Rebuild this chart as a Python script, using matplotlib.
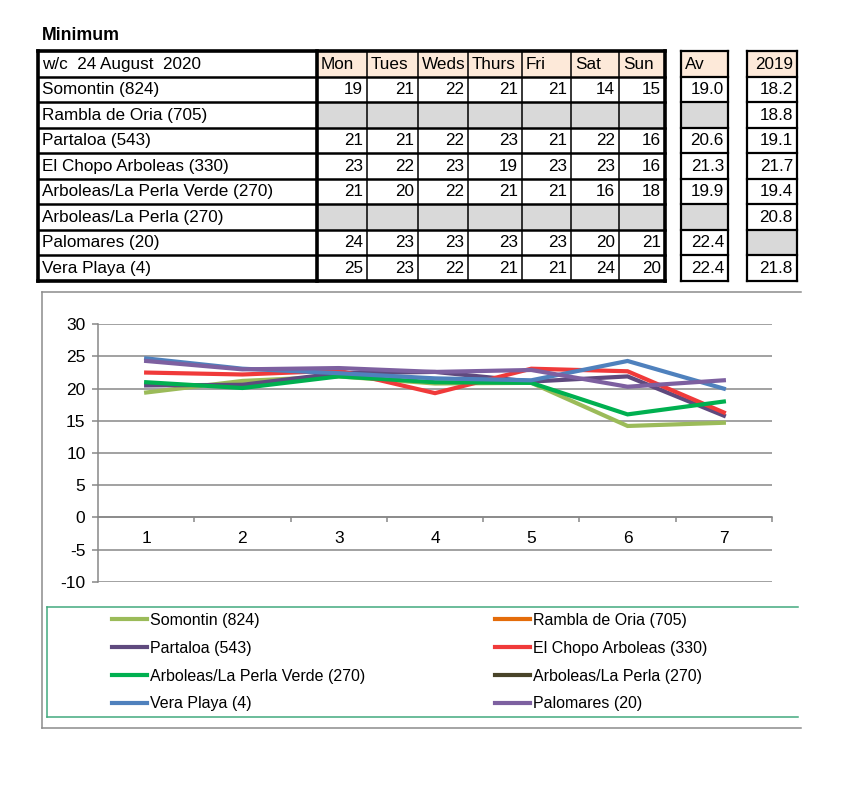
import matplotlib
matplotlib.use("Agg")
import matplotlib.pyplot as plt
from matplotlib.lines import Line2D
from matplotlib.patches import Rectangle
from matplotlib.ticker import MultipleLocator, FixedLocator

plt.rcParams['font.family'] = ['Liberation Sans', 'DejaVu Sans']
plt.rcParams['axes.unicode_minus'] = False

# ---------------- data ----------------
title = "Minimum"
week_label = "w/c  24 August  2020"
days = ["Mon", "Tues", "Weds", "Thurs", "Fri", "Sat", "Sun"]
avg_label = "Av"
prev_label = "2019"

stations = ["Somontin (824)", "Rambla de Oria (705)", "Partaloa (543)",
            "El Chopo Arboleas (330)", "Arboleas/La Perla Verde (270)",
            "Arboleas/La Perla (270)", "Palomares (20)", "Vera Playa (4)"]

# table (daily minimum, whole degrees); None = no data (grey cell)
tbl_somontin = [19, 21, 22, 21, 21, 14, 15]
tbl_rambla = None
tbl_partaloa = [21, 21, 22, 23, 21, 22, 16]
tbl_chopo = [23, 22, 23, 19, 23, 23, 16]
tbl_verde = [21, 20, 22, 21, 21, 16, 18]
tbl_perla = None
tbl_palomares = [24, 23, 23, 23, 23, 20, 21]
tbl_vera = [25, 23, 22, 21, 21, 24, 20]
table_rows = [tbl_somontin, tbl_rambla, tbl_partaloa, tbl_chopo,
              tbl_verde, tbl_perla, tbl_palomares, tbl_vera]

averages = [19.0, None, 20.6, 21.3, 19.9, None, 22.4, 22.4]
prev_year = [18.2, 18.8, 19.1, 21.7, 19.4, 20.8, None, 21.8]

# chart series
x_days = [1, 2, 3, 4, 5, 6, 7]
s_somontin = [19.4, 21.2, 21.9, 20.8, 20.9, 14.2, 14.7]
s_rambla = []
s_partaloa = [20.5, 20.6, 22.4, 22.6, 21.1, 21.9, 15.8]
s_chopo = [22.5, 22.2, 22.8, 19.3, 23.1, 22.7, 16.3]
s_verde = [21.0, 20.1, 21.9, 21.0, 20.9, 16.0, 18.0]
s_perla = []
s_vera = [24.7, 23.1, 22.4, 21.6, 21.3, 24.3, 20.0]
s_palomares = [24.3, 23.0, 23.2, 22.6, 22.9, 20.3, 21.3]

series_names = ["Somontin (824)", "Rambla de Oria (705)", "Partaloa (543)",
                "El Chopo Arboleas (330)", "Arboleas/La Perla Verde (270)",
                "Arboleas/La Perla (270)", "Vera Playa (4)", "Palomares (20)"]
series_vals = [s_somontin, s_rambla, s_partaloa, s_chopo, s_verde,
               s_perla, s_vera, s_palomares]
series_colors = ["#9BBB59", "#E46C0A", "#5F4A7E", "#F03A3A", "#00B050",
                 "#494429", "#4F81BD", "#7D60A0"]

# ---------------- figure ----------------
W, H = 857, 800
fig = plt.figure(figsize=(W / 100, H / 100), dpi=100)
fig.patch.set_facecolor("white")

# overlay axes in pixel coordinates for the table and the frames
ov = fig.add_axes([0, 0, 1, 1])
ov.set_xlim(0, W)
ov.set_ylim(H, 0)
ov.axis("off")

FS = 12.3
ov.text(42, 36, title, fontsize=12.8, fontweight="bold", va="center", ha="left")

row_edges = [51 + 25.5 * i for i in range(10)]
main_cols = [38, 317, 367, 418, 468, 522, 571, 619, 665]
av_cols = [681, 728]
py_cols = [747, 797]
peach = "#FDE9D9"
grey = "#D9D9D9"

def fill(x0, x1, y0, y1, c):
    ov.add_patch(Rectangle((x0, y0), x1 - x0, y1 - y0, facecolor=c,
                           edgecolor="none", zorder=1))

# header fills
for j in range(7):
    fill(main_cols[j + 1], main_cols[j + 2], row_edges[0], row_edges[1], peach)
fill(av_cols[0], av_cols[1], row_edges[0], row_edges[1], peach)
fill(py_cols[0], py_cols[1], row_edges[0], row_edges[1], peach)

# header texts
hy = (row_edges[0] + row_edges[1]) / 2 + 0.5
ov.text(42, hy, week_label, fontsize=FS, va="center", ha="left", zorder=5)
for j, d in enumerate(days):
    ov.text(main_cols[j + 1] + 4, hy, d, fontsize=FS, va="center", ha="left", zorder=5)
ov.text(av_cols[0] + 4, hy, avg_label, fontsize=FS, va="center", ha="left", zorder=5)
ov.text(py_cols[1] - 4, hy, prev_label, fontsize=FS, va="center", ha="right", zorder=5)

# body
for i, name in enumerate(stations):
    y0, y1 = row_edges[i + 1], row_edges[i + 2]
    cy = (y0 + y1) / 2 + 0.5
    ov.text(42, cy, name, fontsize=FS, va="center", ha="left", zorder=5)
    vals = table_rows[i]
    for j in range(7):
        if vals is None:
            fill(main_cols[j + 1], main_cols[j + 2], y0, y1, grey)
        else:
            ov.text(main_cols[j + 2] - 4, cy, f"{vals[j]}", fontsize=FS,
                    va="center", ha="right", zorder=5)
    if averages[i] is None:
        fill(av_cols[0], av_cols[1], y0, y1, grey)
    else:
        ov.text(av_cols[1] - 4, cy, f"{averages[i]:.1f}", fontsize=FS,
                va="center", ha="right", zorder=5)
    if prev_year[i] is None:
        fill(py_cols[0], py_cols[1], y0, y1, grey)
    else:
        ov.text(py_cols[1] - 4, cy, f"{prev_year[i]:.1f}", fontsize=FS,
                va="center", ha="right", zorder=5)

def hline(x0, x1, y, lw, c="black"):
    ov.add_line(Line2D([x0, x1], [y, y], color=c, lw=lw, zorder=4,
                       solid_capstyle="projecting"))

def vline(x, y0, y1, lw, c="black"):
    ov.add_line(Line2D([x, x], [y0, y1], color=c, lw=lw, zorder=4,
                       solid_capstyle="projecting"))

# main table lines
for k, y in enumerate(row_edges):
    lw = 2.6 if k in (0, len(row_edges) - 1) else 1.8
    hline(main_cols[0], main_cols[-1], y, lw)
for k, x in enumerate(main_cols):
    lw = 2.6 if k in (0, 1, len(main_cols) - 1) else 1.1
    vline(x, row_edges[0], row_edges[-1], lw)
# Av and 2019 boxes
for cols in (av_cols, py_cols):
    for k, y in enumerate(row_edges):
        hline(cols[0], cols[1], y, 1.6)
    vline(cols[0], row_edges[0], row_edges[-1], 1.6)
    vline(cols[1], row_edges[0], row_edges[-1], 1.6)

# chart outer frame (cut off at the right)
frame_c = "#8C8C8C"
hline(42, 801, 292, 1.1, frame_c)
vline(42, 292, 728, 1.1, frame_c)
hline(42, 801, 728, 1.1, frame_c)

# legend box (cut off at the right)
leg_c = "#43A97E"
hline(47, 798, 606.5, 1.1, leg_c)
vline(47, 606.5, 716.5, 1.1, leg_c)
hline(47, 798, 716.5, 1.1, leg_c)

# ---------------- chart ----------------
ax_l, ax_r, ax_t, ax_b = 98, 772, 324.3, 581.7
ax = fig.add_axes([ax_l / W, 1 - ax_b / H, (ax_r - ax_l) / W, (ax_b - ax_t) / H])
ax.patch.set_alpha(0)
grid_c = "#878787"

handles = {}
for name, vals, col in zip(series_names, series_vals, series_colors):
    ln, = ax.plot(x_days[:len(vals)], vals, color=col, lw=3.0,
                  solid_joinstyle="miter", label=name, zorder=3)
    handles[name] = ln

ax.set_xlim(0.5, 7.5)
ax.set_ylim(-10, 30)
ax.yaxis.set_major_locator(MultipleLocator(5))
ax.grid(axis="y", color=grid_c, lw=1.1)
ax.set_axisbelow(True)
for s in ("top", "right"):
    ax.spines[s].set_visible(False)
ax.spines["left"].set_color(grid_c)
ax.spines["left"].set_linewidth(1.1)
ax.spines["bottom"].set_position(("data", 0))
ax.spines["bottom"].set_color(grid_c)
ax.spines["bottom"].set_linewidth(1.1)

ax.xaxis.set_major_locator(FixedLocator(x_days))
ax.set_xticklabels([str(v) for v in x_days])
ax.xaxis.set_minor_locator(FixedLocator([1.5, 2.5, 3.5, 4.5, 5.5, 6.5, 7.5]))
ax.tick_params(axis="x", which="major", length=0, pad=10, labelsize=12.5)
ax.tick_params(axis="x", which="minor", length=3.5, width=1.1, color=grid_c,
               direction="out")
ax.tick_params(axis="y", which="major", length=4, width=1.1, color=grid_c,
               pad=5, labelsize=12.5)

order = ["Somontin (824)", "Partaloa (543)", "Arboleas/La Perla Verde (270)",
         "Vera Playa (4)", "Rambla de Oria (705)", "El Chopo Arboleas (330)",
         "Arboleas/La Perla (270)", "Palomares (20)"]
leg = fig.legend([handles[n] for n in order], order, ncol=2, loc="upper left",
                 bbox_to_anchor=(112 / W, 1 - 613 / H), frameon=False,
                 borderpad=0, borderaxespad=0, fontsize=11.5,
                 handlelength=2.2, handletextpad=0.2, columnspacing=8.1,
                 labelspacing=0.8)

fig.savefig("out.png", dpi=100, facecolor="white")
